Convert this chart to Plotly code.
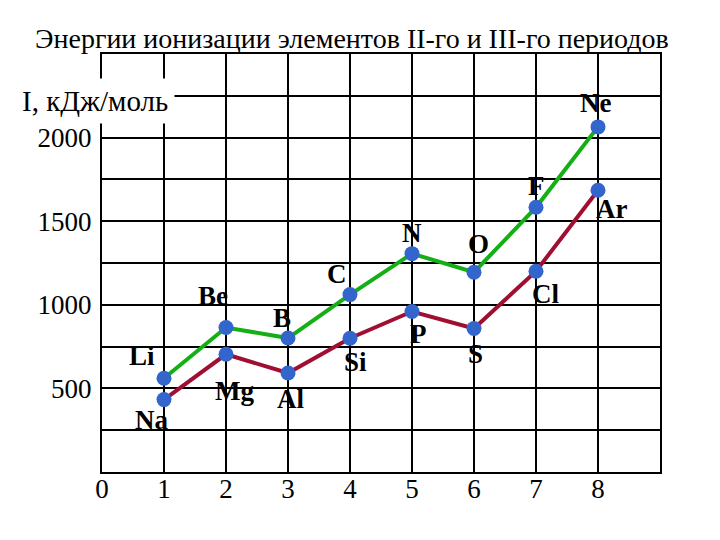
import plotly.graph_objects as go

# ---- data ----
x_positions = [1, 2, 3, 4, 5, 6, 7, 8]
period2_names = ["Li", "Be", "B", "C", "N", "O", "F", "Ne"]
period2_values = [561, 864, 801, 1061, 1306, 1195, 1583, 2064]
period3_names = ["Na", "Mg", "Al", "Si", "P", "S", "Cl", "Ar"]
period3_values = [433, 704, 592, 800, 960, 858, 1201, 1685]

x_tick_vals = [0, 1, 2, 3, 4, 5, 6, 7, 8]
x_tick_text = ["0", "1", "2", "3", "4", "5", "6", "7", "8"]
y_tick_vals = [250, 500, 750, 1000, 1250, 1500, 1750, 2000, 2250, 2500]
y_tick_text = ["", "500", "", "1000", "", "1500", "", "2000", "", ""]

title_text = "Энергии ионизации элементов II-го и III-го периодов"
y_label_text = "I, кДж/моль"

# ---- label offsets (pixels: right, down) ----
p2_offsets = [(-22, -22), (-13, -32), (-6, -20), (-13, -21), (0, -21), (4, -28), (0, -21), (-3, -24)]
p3_offsets = [(-13, 20), (8, 37), (2, 26), (5, 24), (6, 23), (1, 25), (9, 23), (13, 19)]

FONT = "Liberation Serif"
MARKER_COLOR = "rgb(51,102,204)"

fig = go.Figure()
fig.add_trace(go.Scatter(
    x=x_positions, y=period2_values, mode="lines+markers",
    line=dict(color="rgb(20,175,20)", width=4),
    marker=dict(color=MARKER_COLOR, size=15),
    showlegend=False, cliponaxis=False,
))
fig.add_trace(go.Scatter(
    x=x_positions, y=period3_values, mode="lines+markers",
    line=dict(color="rgb(160,15,50)", width=4),
    marker=dict(color=MARKER_COLOR, size=15),
    showlegend=False, cliponaxis=False,
))

annotations = []
for names, vals, offs in ((period2_names, period2_values, p2_offsets),
                          (period3_names, period3_values, p3_offsets)):
    for xv, yv, nm, (dx, dy) in zip(x_positions, vals, names, offs):
        annotations.append(dict(
            x=xv, y=yv, xref="x", yref="y", text="<b>%s</b>" % nm,
            showarrow=False, xshift=dx, yshift=-dy,
            font=dict(family=FONT, size=27, color="black"),
        ))

annotations.append(dict(
    x=0.448, y=1.0, xref="paper", yref="paper", text=title_text,
    showarrow=False, xanchor="center", yanchor="bottom", yshift=-2,
    font=dict(family=FONT, size=28, color="black"),
))
annotations.append(dict(
    x=0.13, y=0.8876, xref="paper", yref="paper", text=y_label_text,
    showarrow=False, xanchor="right", yanchor="middle",
    bgcolor="white", borderpad=6,
    font=dict(family=FONT, size=29, color="black"),
))

fig.update_layout(
    width=720, height=540,
    margin=dict(l=94, r=68, t=46, b=76),
    paper_bgcolor="white", plot_bgcolor="white",
    annotations=annotations,
    font=dict(family=FONT, size=26, color="black"),
)
fig.update_xaxes(
    range=[0, 9], tickvals=x_tick_vals, ticktext=x_tick_text,
    showgrid=True, gridcolor="black", gridwidth=1.5,
    showline=True, linecolor="black", linewidth=2, mirror=True,
    zeroline=False, ticks="", tickfont=dict(family=FONT, size=27),
    ticklabelstandoff=-8,
)
fig.update_yaxes(
    range=[0, 2500], tickvals=y_tick_vals, ticktext=y_tick_text,
    showgrid=True, gridcolor="black", gridwidth=1.5,
    showline=True, linecolor="black", linewidth=2, mirror=True,
    zeroline=False, ticks="", tickfont=dict(family=FONT, size=27),
    ticklabelstandoff=3,
)

fig.write_html("out.html")
